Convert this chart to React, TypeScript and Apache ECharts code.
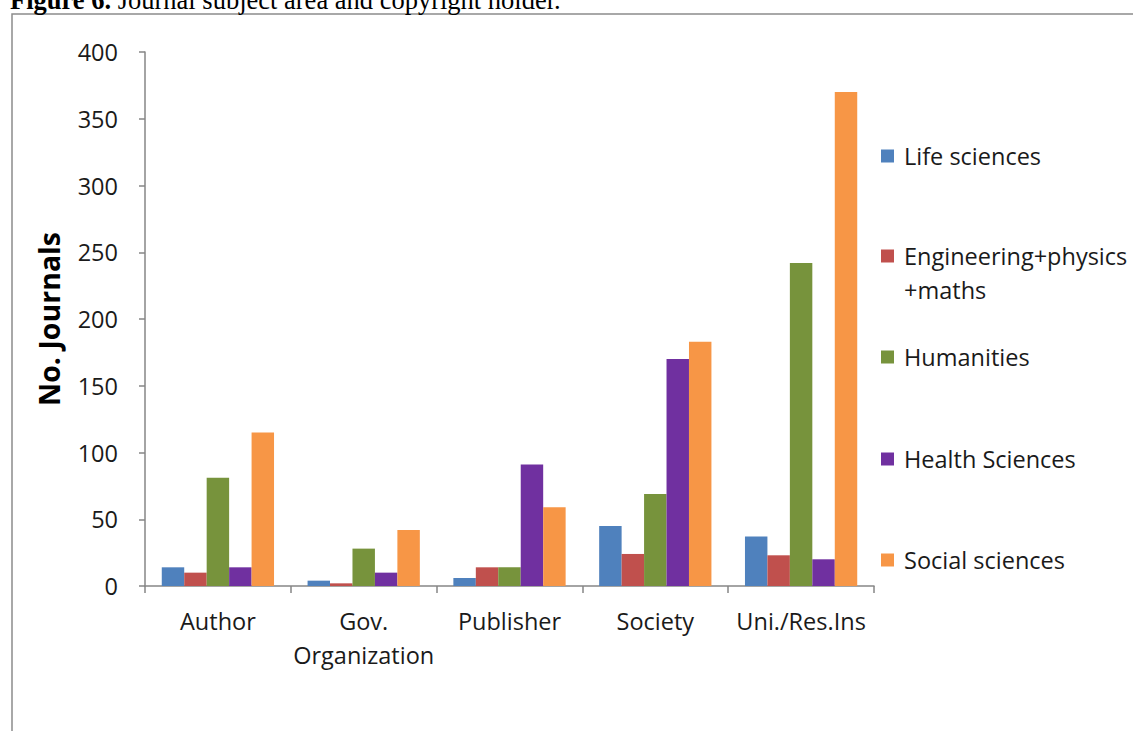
import React, { useEffect, useRef } from "react";
import * as echarts from "echarts";

const categories = ["Author", "Gov.\nOrganization", "Publisher", "Society", "Uni./Res.Ins"];
const seriesNames = ["Life sciences", "Engineering+physics+maths", "Humanities", "Health Sciences", "Social sciences"];
const lifeSciences = [14, 4, 6, 45, 37];
const engineering = [10, 2, 14, 24, 23];
const humanities = [81, 28, 14, 69, 242];
const healthSciences = [14, 10, 91, 170, 20];
const socialSciences = [115, 42, 59, 183, 370];
const yTicks = [0, 50, 100, 150, 200, 250, 300, 350, 400];
const colors = ["#4F81BD", "#C0504D", "#77933C", "#7030A0", "#F79646"];

const FONT = "'Open Sans', 'Noto Sans', sans-serif";
const SERIF = "'Liberation Serif', 'Times New Roman', serif";

export default function App() {
  const ref = useRef<HTMLDivElement>(null);
  useEffect(() => {
    if (!ref.current) return;
    const chart = echarts.init(ref.current, null, { renderer: "svg" });
    const allData = [lifeSciences, engineering, humanities, healthSciences, socialSciences];
    const legendCenters = [156, 256, 357, 459, 560];
    const legends = seriesNames.map((name, i) => {
      const isEng = i === 1;
      return {
        show: true,
        orient: "vertical",
        left: 881,
        top: isEng ? legendCenters[i] - 51 : legendCenters[i] - 17,
        padding: 0,
        itemWidth: 13,
        itemHeight: 13,
        icon: "rect",
        selectedMode: false,
        data: [name],
        formatter: isEng ? () => " \nEngineering+physics\n+maths" : undefined,
        textStyle: {
          fontFamily: FONT,
          fontSize: 23.5,
          color: "#1a1a1a",
          lineHeight: 34,
          padding: [0, 0, 0, 5],
        },
      };
    });
    chart.setOption({
      animation: false,
      backgroundColor: "#ffffff",
      grid: { left: 145, right: 259, top: 52, bottom: 145, containLabel: false },
      legend: legends,
      graphic: [
        {
          type: "rect",
          shape: { x: 12, y: 14, width: 1300, height: 900 },
          style: { fill: "none", stroke: "#8c8c8c", lineWidth: 1.5 },
          silent: true,
        },
        {
          type: "text",
          x: 10,
          y: 0,
          style: {
            text: "{b|Figure 6.} Journal subject area and copyright holder.",
            fontFamily: SERIF,
            fontSize: 26.5,
            fill: "#000",
            verticalAlign: "middle",
            rich: {
              b: { fontWeight: "bold", fontFamily: SERIF, fontSize: 26.5 },
            },
          },
        },
      ],
      xAxis: {
        type: "category",
        data: categories,
        axisLine: { lineStyle: { color: "#868686", width: 1.5 } },
        axisTick: { show: true, length: 7, alignWithLabel: false, lineStyle: { color: "#868686", width: 1.5 } },
        axisLabel: {
          fontFamily: FONT,
          fontSize: 23.5,
          color: "#1a1a1a",
          margin: 18,
          lineHeight: 34,
          interval: 0,
        },
        splitLine: { show: false },
      },
      yAxis: {
        type: "value",
        min: 0,
        max: 400,
        interval: 50,
        name: "No. Journals",
        nameLocation: "middle",
        nameRotate: 90,
        nameGap: 82,
        nameTextStyle: { fontFamily: FONT, fontSize: 28.5, fontWeight: "bold", color: "#000" },
        axisLine: { show: true, lineStyle: { color: "#868686", width: 1.5 } },
        axisTick: { show: true, length: 6, lineStyle: { color: "#868686", width: 1.5 } },
        axisLabel: {
          fontFamily: FONT,
          fontSize: 23.5,
          color: "#1a1a1a",
          margin: 27,
          formatter: (v: number) => (yTicks.includes(v) ? String(v) : ""),
        },
        splitLine: { show: false },
      },
      series: seriesNames.map((name, i) => ({
        name,
        type: "bar",
        data: allData[i],
        barGap: "0%",
        barCategoryGap: "23%",
        itemStyle: { color: colors[i] },
      })),
    });
    return () => chart.dispose();
  }, []);
  return (
    <div
      ref={ref}
      style={{ position: "fixed", left: 0, top: 0, width: 1133, height: 731, background: "#fff" }}
    />
  );
}
